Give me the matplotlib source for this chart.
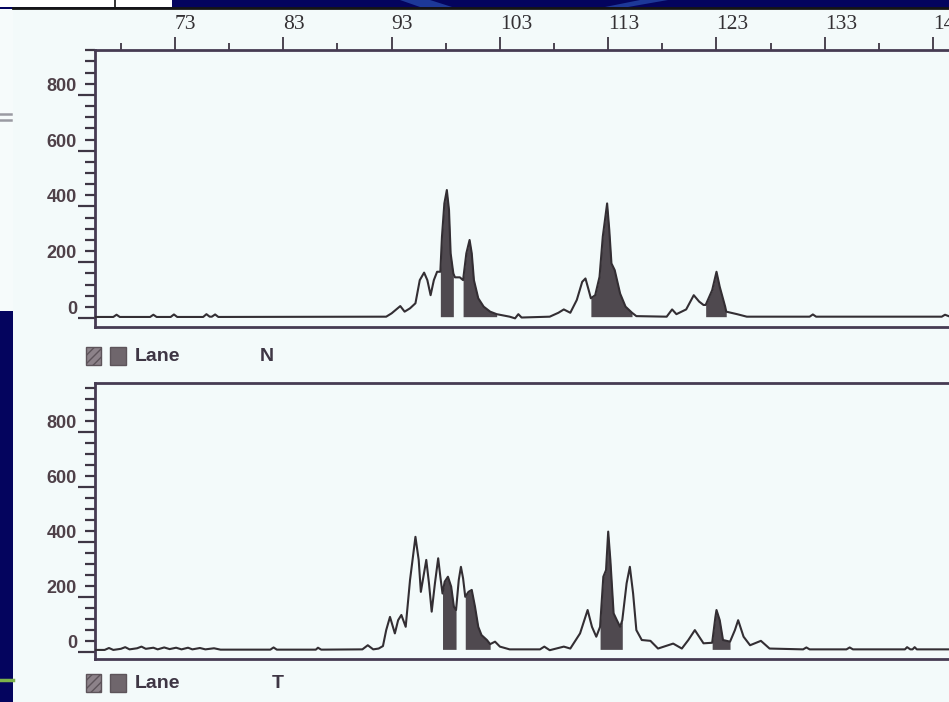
import matplotlib
matplotlib.use('Agg')
import matplotlib.pyplot as plt
from matplotlib.patches import Rectangle, Polygon
from matplotlib.lines import Line2D
from matplotlib.ticker import MultipleLocator

# size axis (top) and signal axis
TOP_TICKS = [73, 83, 93, 103, 113, 123, 133, 143]
TOP_MINOR = [68, 78, 88, 98, 108, 118, 128, 138]
Y_TICKS = [0, 200, 400, 600, 800]

# lane N trace
N_X = [65.6, 67.3, 67.6, 67.9, 70.7, 71.0, 71.3, 72.6, 72.9, 73.2, 75.6, 75.9, 76.2,
       76.4, 76.7, 77.0, 92.5, 93.0, 93.8, 94.2, 94.7, 95.2, 95.6, 96.0, 96.3, 96.6,
       96.9, 97.2, 97.5, 97.65, 97.87, 98.1, 98.3, 98.45, 98.7, 98.85, 99.3, 99.6,
       99.9, 100.2, 100.4, 100.6, 101.0, 101.5, 102.1, 102.7, 103.9, 104.4, 104.7,
       105.0, 107.6, 108.4, 108.9, 109.5, 110.1, 110.6, 110.9, 111.2, 111.4, 111.8,
       112.2, 112.5, 112.9, 113.1, 113.3, 113.6, 114.1, 114.6, 115.2, 115.6, 118.4,
       118.9, 119.3, 120.2, 120.9, 121.4, 121.8, 122.0, 122.6, 123.0, 123.3, 123.8,
       123.9, 124.9, 125.8, 131.6, 131.9, 132.2, 143.8, 144.1, 144.5]
N_Y = [4, 4, 12, 4, 4, 12, 4, 4, 13, 4, 4, 14, 5,
       5, 13, 4, 5, 17, 43, 23, 35, 53, 136, 163, 136, 82,
       136, 166, 166, 292, 411, 459, 387, 232, 160, 146, 146, 136,
       232, 280, 232, 136, 71, 41, 23, 14, 5, -1, 14,
       2, 5, 19, 31, 19, 65, 130, 142, 100, 71, 82,
       148, 292, 411, 316, 196, 172, 88, 41, 19, 7, 5,
       31, 14, 31, 82, 59, 47, 47, 100, 166, 112, 41,
       23, 14, 5, 5, 13, 5, 5, 12, 6]
N_FILL = [(97.5, 98.7), (99.6, 102.7), (111.4, 115.2), (122.0, 123.9)]

# lane T trace
T_X = [65.6, 66.5, 66.9, 67.3, 68.0, 68.4, 68.8, 69.5, 69.9, 70.3, 71.0, 71.4, 72.0,
       72.5, 73.1, 73.6, 74.2, 74.6, 75.3, 75.8, 76.6, 77.2, 81.8, 82.1, 82.4, 86.0,
       86.2, 86.5, 90.3, 90.8, 91.3, 91.8, 92.2, 92.5, 92.85, 93.3, 93.6, 93.9, 94.3,
       94.7, 95.2, 95.5, 95.7, 96.2, 96.45, 96.7, 97.0, 97.3, 97.5, 97.7, 97.9, 98.2,
       98.5, 98.75, 98.95, 99.2, 99.4, 99.6, 99.8, 100.1, 100.4, 100.7, 101.0, 101.3,
       101.8, 102.1, 102.55, 103.0, 103.9, 106.7, 107.1, 107.6, 108.9, 109.5, 110.4,
       111.1, 111.5, 111.9, 112.25, 112.55, 112.8, 113.0, 113.2, 113.5, 113.8, 114.1,
       114.3, 114.7, 115.0, 115.3, 115.6, 116.1, 116.9, 117.6, 119.0, 119.8, 120.4,
       121.0, 121.8, 122.6, 122.9, 123.0, 123.3, 123.6, 124.25, 124.7, 125.0, 125.5,
       126.1, 127.1, 127.9, 131.0, 131.3, 131.6, 135.0, 135.3, 135.6, 140.4, 140.6,
       140.9, 141.1, 141.3, 141.5, 144.5]
T_Y = [8, 8, 15, 8, 12, 18, 10, 14, 20, 12, 16, 10, 17,
       11, 16, 10, 16, 10, 15, 10, 14, 9, 9, 17, 9, 9,
       16, 9, 10, 25, 10, 13, 22, 80, 128, 68, 116, 135, 92,
       262, 419, 335, 219, 335, 250, 147, 250, 341, 274, 213, 256, 274,
       238, 165, 153, 262, 310, 268, 201, 219, 226, 165, 92, 62,
       44, 29, 38, 20, 10, 10, 20, 7, 20, 13, 68,
       153, 92, 56, 92, 274, 298, 438, 335, 141, 116, 92,
       116, 250, 310, 213, 80, 44, 41, 13, 31, 13, 44,
       80, 32, 34, 128, 153, 116, 44, 38, 80, 116, 56,
       25, 41, 13, 10, 17, 10, 10, 17, 10, 10, 18,
       10, 10, 18, 10, 10]
T_FILL = [(97.7, 98.95), (99.8, 102.1), (112.25, 114.3), (122.6, 124.25)]

N_BASE = 5
T_BASE = 10

W, H = 949, 702
NAVY = '#04045e'
PAPER = '#f3fafa'
INK = '#3e3644'
TRACE = '#332e33'
FILL = '#4f494f'


def box(left, top, right, bottom):
    return [left / W, 1 - bottom / H, (right - left) / W, (bottom - top) / H]


def fig_line(fig, x0, y0, x1, y1, **kw):
    fig.add_artist(Line2D([x0 / W, x1 / W], [1 - y0 / H, 1 - y1 / H],
                          transform=fig.transFigure, **kw))


def fig_rect(fig, x0, y0, x1, y1, **kw):
    fig.add_artist(Rectangle((x0 / W, 1 - y1 / H), (x1 - x0) / W, (y1 - y0) / H,
                             transform=fig.transFigure, **kw))


fig = plt.figure(figsize=(W / 100, H / 100), dpi=100, facecolor=NAVY)

# slide background bits around the scanned sheet
fig_rect(fig, 13, 9, 949, 702, facecolor=PAPER, edgecolor='none', zorder=-10)
fig_rect(fig, 0, 9, 13, 311, facecolor='#f6fbfb', edgecolor='none', zorder=-10)
fig_rect(fig, 0, 0, 172, 7, facecolor='white', edgecolor='none', zorder=-10)
fig_line(fig, 115, 0, 115, 7, color='#111111', lw=1.2, zorder=-9)
fig_line(fig, 13, 8, 949, 8, color='#151515', lw=2, zorder=-9)
fig_line(fig, 0, 114, 11, 114, color='#9a9aa2', lw=1.8, zorder=-9)
fig_line(fig, 0, 120, 11, 120, color='#9a9aa2', lw=1.8, zorder=-9)
fig_line(fig, 0, 680, 13, 680, color='#7db24a', lw=2.5, zorder=-9)
for pts in ([(400, 0), (430, 0), (452, 7), (420, 7)], [(640, 0), (668, 0), (628, 7), (605, 7)]):
    fig.add_artist(Polygon([(x / W, 1 - y / H) for x, y in pts], closed=True,
                           transform=fig.transFigure, facecolor='#1d3898',
                           edgecolor='none', zorder=-9))

panels = [
    (box(95, 50, 949, 327), (-32, 961), N_X, N_Y, N_FILL, N_BASE, 356),
    (box(95, 383, 949, 659), (-25, 978), T_X, T_Y, T_FILL, T_BASE, 683),
]

for i, (rect, ylim, xs, ys, fills, base, lane_y) in enumerate(panels):
    ax = fig.add_axes(rect)
    ax.set_facecolor(PAPER)

    for a, b in fills:
        mask = [a <= v <= b for v in xs]
        ax.fill_between(xs, base, ys, where=mask, color=FILL, lw=0, zorder=2)
    ax.plot(xs, ys, color=TRACE, lw=1.5, zorder=3)

    for side in ['top', 'left', 'bottom']:
        ax.spines[side].set_color('#463b52')
        ax.spines[side].set_linewidth(2)
    ax.spines['right'].set_visible(False)

    ax.set_yticks(Y_TICKS)
    ax.set_yticklabels([str(v) for v in Y_TICKS])
    ax.yaxis.set_minor_locator(MultipleLocator(40))
    ax.tick_params(axis='y', which='major', direction='out', length=12, width=1.6,
                   color=INK, pad=1, labelsize=13, labelcolor='#4e4048')
    ax.tick_params(axis='y', which='minor', direction='out', length=7, width=1.6,
                   color=INK)
    for lab in ax.get_yticklabels():
        lab.set_fontfamily('Liberation Sans')
        lab.set_fontweight('bold')
        lab.set_va('bottom')

    if i == 0:
        ax.xaxis.tick_top()
        ax.set_xticks(TOP_TICKS)
        ax.set_xticklabels([str(v) for v in TOP_TICKS])
        ax.set_xticks(TOP_MINOR, minor=True)
        ax.tick_params(axis='x', which='major', direction='out', length=9.5, width=1.3,
                       color=INK, pad=2, labelsize=15.5, labelcolor='#333033')
        ax.tick_params(axis='x', which='minor', direction='out', length=5, width=1.3,
                       color=INK)
        for lab in ax.get_xticklabels():
            lab.set_fontfamily('Liberation Serif')
            lab.set_ha('left')
    else:
        ax.set_xticks([])

    # limits last, so the tick setters cannot widen them
    ax.set_xlim(65.61, 144.47)
    ax.set_ylim(*ylim)

    # lane legend row under each panel
    fig_rect(fig, 86, lane_y - 9, 101, lane_y + 9, facecolor='#8c8289',
             edgecolor='#5d545a', lw=1, hatch='////')
    fig_rect(fig, 110, lane_y - 9, 126, lane_y + 9, facecolor='#6f666c',
             edgecolor='#5d545a', lw=1)
    fig.text(135 / W, 1 - lane_y / H, 'Lane', ha='left', va='center', fontsize=14,
             fontweight='bold', color=INK,
             family=['Liberation Sans Narrow', 'Liberation Sans'])
    fig.text((260 + 12 * i) / W, 1 - lane_y / H, ['N', 'T'][i], ha='left', va='center',
             fontsize=14, fontweight='bold', color=INK,
             family=['Liberation Sans Narrow', 'Liberation Sans'])

fig.savefig('out.png', dpi=100, facecolor=NAVY)
